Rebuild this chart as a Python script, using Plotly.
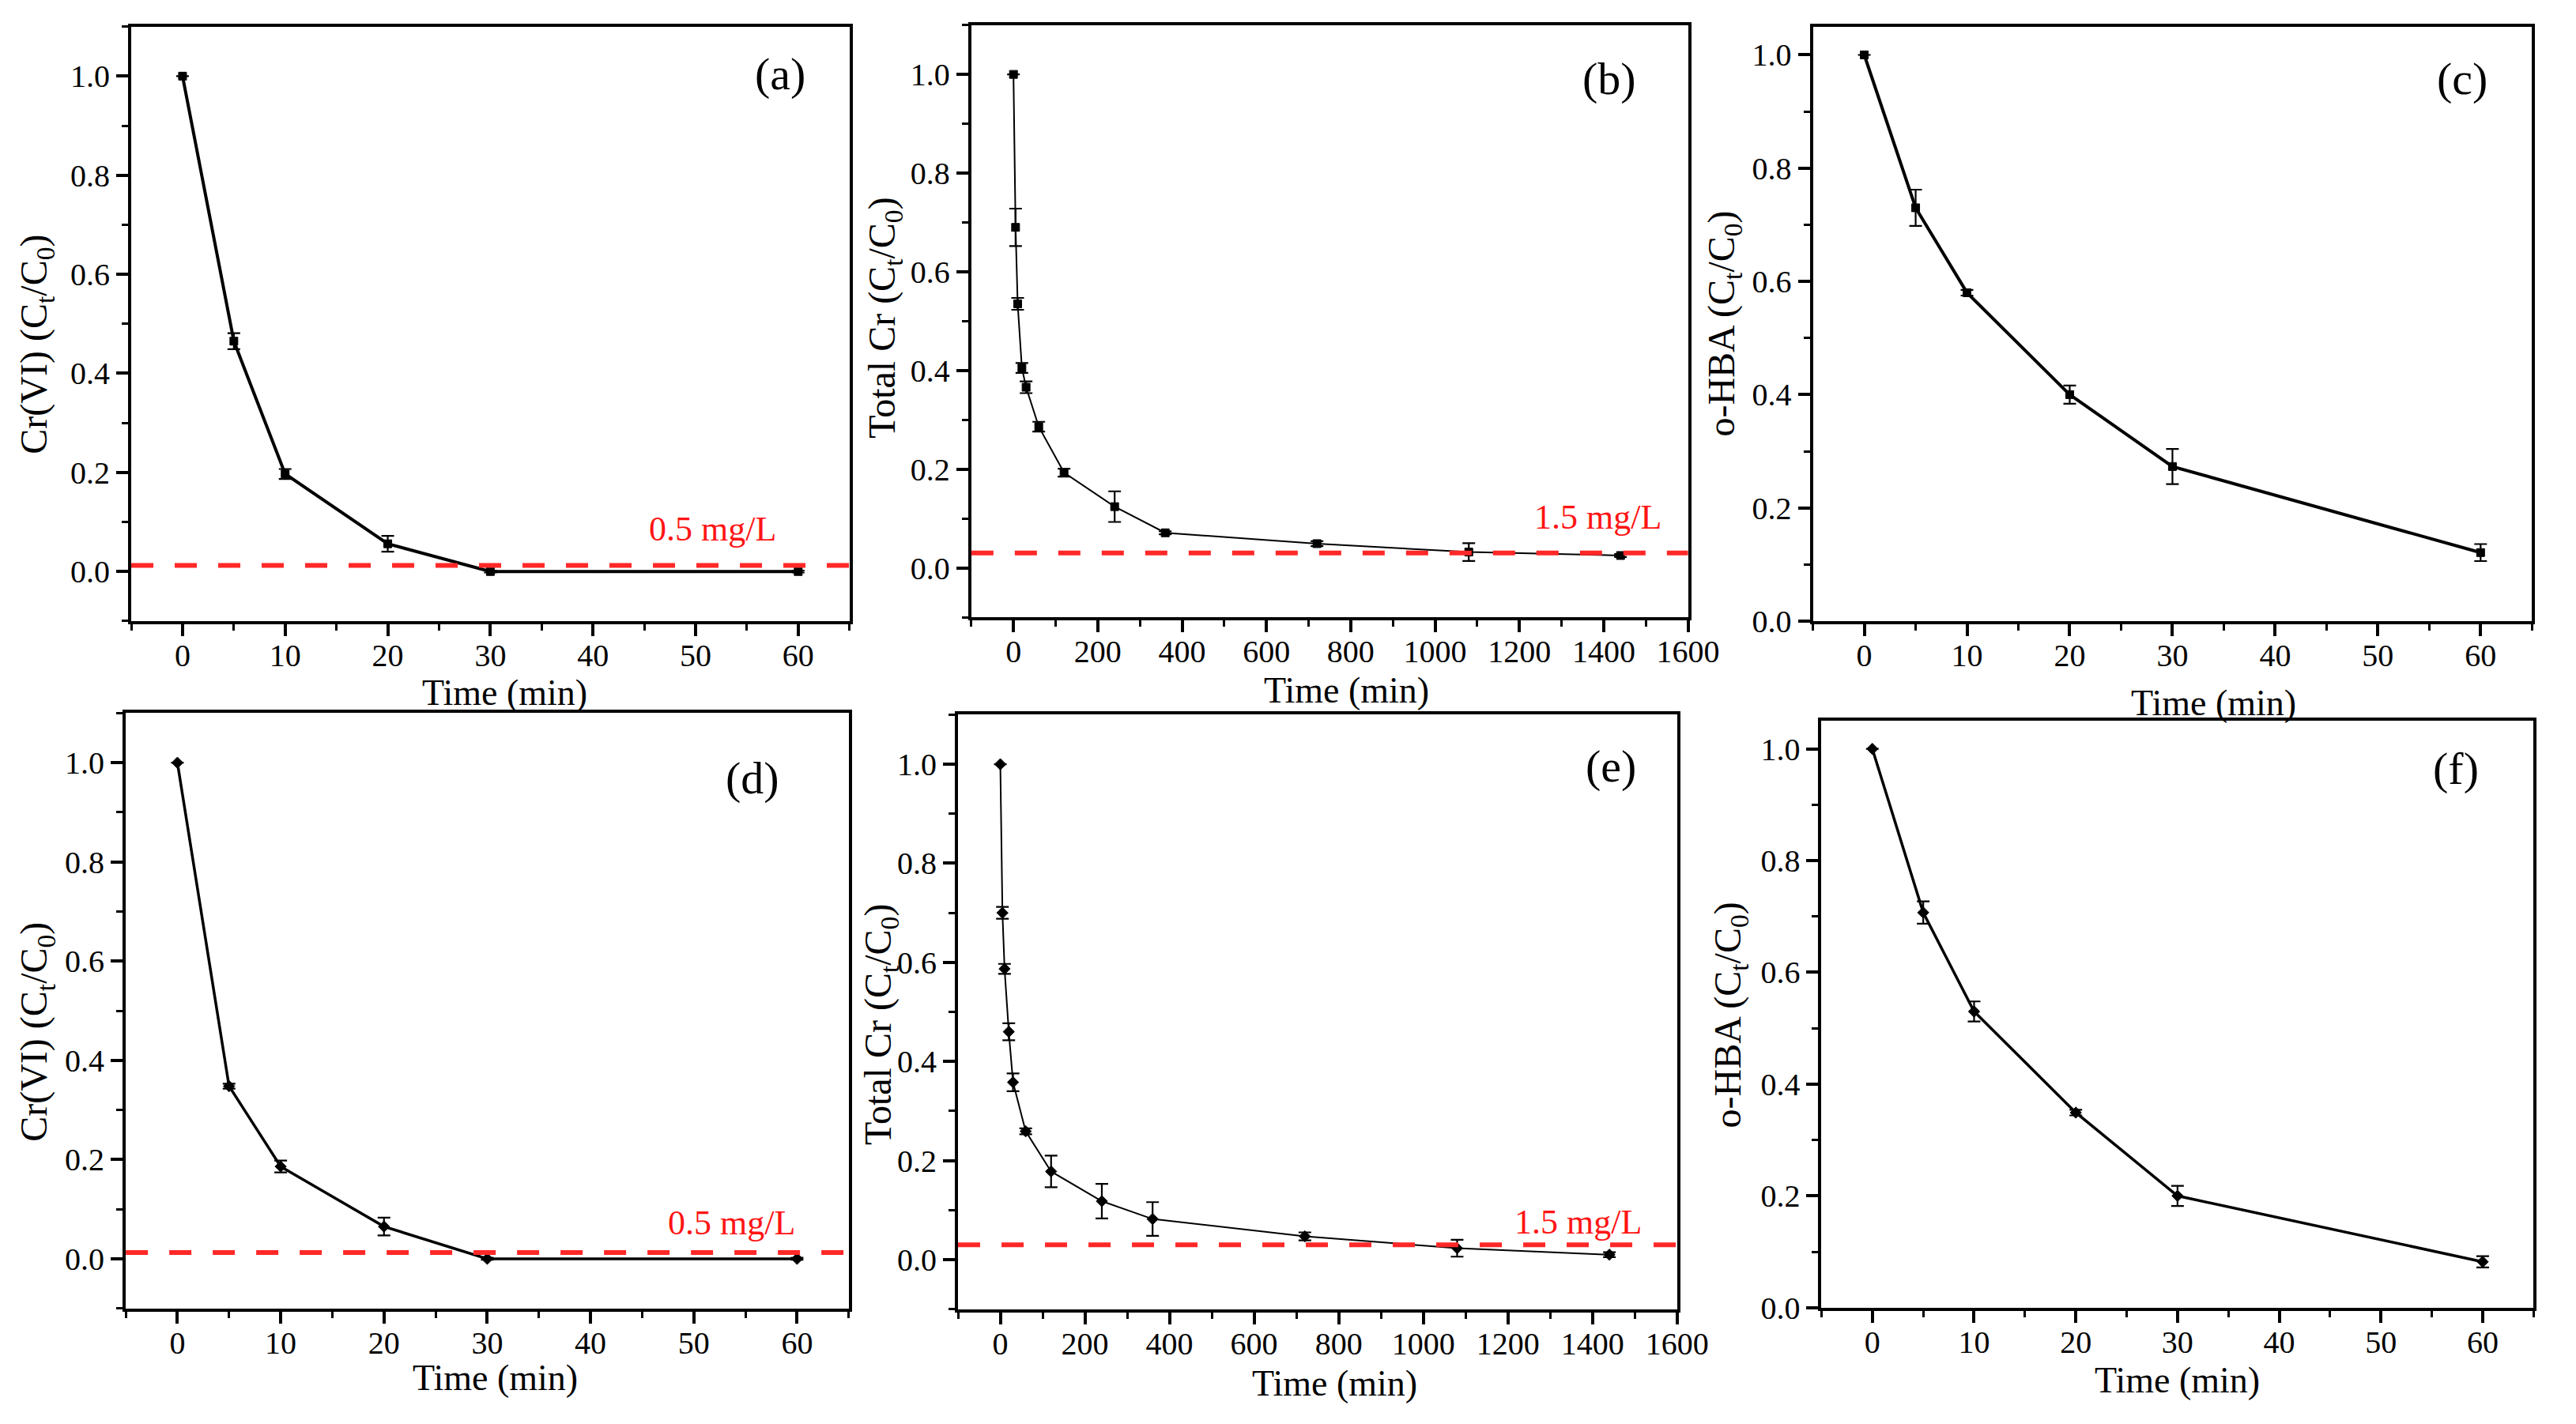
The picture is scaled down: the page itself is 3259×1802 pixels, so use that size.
import plotly.graph_objects as go
from plotly.subplots import make_subplots

# sampling times (min)
T_SHORT = [0, 5, 10, 20, 30, 60]
T_LONG = [0, 5, 10, 20, 30, 60, 120, 240, 360, 720, 1080, 1440]

# (a) Cr(VI)
CR6_A = [1.0, 0.465, 0.197, 0.056, 0.0, 0.0]
CR6_A_ERR = [0, 0.016, 0.010, 0.016, 0.002, 0.002]
# (b) total Cr
TOTCR_B = [1.0, 0.69, 0.535, 0.405, 0.366, 0.286, 0.193, 0.124, 0.071, 0.049, 0.032, 0.025]
TOTCR_B_ERR = [0, 0.038, 0.012, 0.010, 0.012, 0.010, 0.008, 0.031, 0.003, 0.005, 0.018, 0.003]
# (c) o-HBA
HBA_C = [1.0, 0.73, 0.58, 0.40, 0.273, 0.121]
HBA_C_ERR = [0, 0.032, 0.005, 0.016, 0.031, 0.015]
# (d) Cr(VI)
CR6_D = [1.0, 0.348, 0.186, 0.065, 0.0, 0.0]
CR6_D_ERR = [0, 0.005, 0.012, 0.018, 0.002, 0.002]
# (e) total Cr
TOTCR_E = [1.0, 0.70, 0.587, 0.46, 0.358, 0.259, 0.178, 0.118, 0.082, 0.047, 0.023, 0.010]
TOTCR_E_ERR = [0, 0.012, 0.010, 0.017, 0.018, 0.006, 0.032, 0.035, 0.034, 0.008, 0.017, 0.005]
# (f) o-HBA
HBA_F = [1.0, 0.707, 0.53, 0.349, 0.20, 0.082]
HBA_F_ERR = [0, 0.020, 0.018, 0.005, 0.018, 0.010]

# discharge limits as C/C0
LIMIT_CR6 = 0.0125
LIMIT_TOTCR = 0.03
LIMIT_LABELS = ["0.5 mg/L", "1.5 mg/L"]
PANEL_LABELS = ["(a)", "(b)", "(c)", "(d)", "(e)", "(f)"]
Y_TITLES = ["Cr(VI) (C<sub>t</sub>/C<sub>0</sub>)",
            "Total Cr (C<sub>t</sub>/C<sub>0</sub>)",
            "o-HBA (C<sub>t</sub>/C<sub>0</sub>)"]
X_TITLE = "Time (min)"

W, H = 3259, 1802
FONT = "Liberation Serif"

def px_dom(a, b, total, flip=False):
    '''pixel span -> paper domain'''
    if flip:
        return [1 - b / total, 1 - a / total]
    return [a / total, b / total]

# plot-area boxes in pixels (left, right, top, bottom)
BOXES = [
    (160, 1080, 26, 788), (1236, 2154, 24, 783), (2314, 3235, 26, 788),
    (153, 1079, 906, 1669), (1219, 2140, 908, 1670), (2325, 3237, 916, 1668),
]

panels = [
    (T_SHORT, CR6_A, CR6_A_ERR, "square", 4),
    (T_LONG, TOTCR_B, TOTCR_B_ERR, "square", 2),
    (T_SHORT, HBA_C, HBA_C_ERR, "square", 4),
    (T_SHORT, CR6_D, CR6_D_ERR, "diamond", 3.5),
    (T_LONG, TOTCR_E, TOTCR_E_ERR, "diamond", 2),
    (T_SHORT, HBA_F, HBA_F_ERR, "diamond", 3.5),
]

fig = make_subplots(rows=2, cols=3)

for i, (x, y, e, sym, lw) in enumerate(panels):
    r, c = i // 3 + 1, i % 3 + 1
    fig.add_trace(
        go.Scatter(
            x=x, y=y, mode="lines+markers",
            line=dict(color="black", width=lw),
            marker=dict(symbol=sym, size=10 if sym == "square" else 11, color="black",
                        line=dict(color="black", width=1)),
            error_y=dict(type="data", array=e, color="black", thickness=2.2, width=8),
            showlegend=False,
        ),
        row=r, col=c,
    )

# limit lines and their labels
limits = {0: (LIMIT_CR6, LIMIT_LABELS[0], 0.90, 0.155),
          1: (LIMIT_TOTCR, LIMIT_LABELS[1], 0.965, 0.169),
          3: (LIMIT_CR6, LIMIT_LABELS[0], 0.928, 0.144),
          4: (LIMIT_TOTCR, LIMIT_LABELS[1], 0.953, 0.146)}
for i, (lim, txt, ax, ay) in limits.items():
    r, c = i // 3 + 1, i % 3 + 1
    fig.add_hline(y=lim, line=dict(color="rgb(255,40,40)", width=6, dash="28px,27px"),
                  row=r, col=c)
    n = "" if i == 0 else str(i + 1)
    fig.add_annotation(text=txt, xref=f"x{n} domain", yref=f"y{n} domain",
                       x=ax, y=ay, xanchor="right", yanchor="middle", showarrow=False,
                       font=dict(family=FONT, size=44, color="rgb(255,20,20)"))

label_pos = [(0.903, 0.921), (0.89, 0.91), (0.903, 0.913),
             (0.867, 0.891), (0.908, 0.913), (0.891, 0.919)]
# axis titles drawn as annotations (domain coords)
xtitle_pos = [(0.52, -0.121), (0.523, -0.124), (0.557, -0.138),
              (0.511, -0.116), (0.524, -0.125), (0.50, -0.123)]
ytitle_pos = [(-0.1315, 0.465), (-0.122, 0.505), (-0.124, 0.50),
              (-0.123, 0.464), (-0.107, 0.479), (-0.128, 0.499)]

for i, lab in enumerate(PANEL_LABELS):
    n = "" if i == 0 else str(i + 1)
    fig.add_annotation(text=lab, xref=f"x{n} domain", yref=f"y{n} domain",
                       x=label_pos[i][0], y=label_pos[i][1], xanchor="center",
                       yanchor="middle", showarrow=False,
                       font=dict(family=FONT, size=58, color="black"))
    fig.add_annotation(text=X_TITLE, xref=f"x{n} domain", yref=f"y{n} domain",
                       x=xtitle_pos[i][0], y=xtitle_pos[i][1], xanchor="center",
                       yanchor="middle", showarrow=False,
                       font=dict(family=FONT, size=46, color="black"))
    fig.add_annotation(text=Y_TITLES[i % 3], xref=f"x{n} domain", yref=f"y{n} domain",
                       x=ytitle_pos[i][0], y=ytitle_pos[i][1], xanchor="center",
                       yanchor="middle", textangle=-90, showarrow=False,
                       font=dict(family=FONT, size=48, color="black"))

axis_common = dict(
    showline=True, linecolor="black", linewidth=4, mirror=True,
    ticks="outside", ticklen=15, tickwidth=4, tickcolor="black",
    showgrid=False, zeroline=False,
    tickfont=dict(family=FONT, size=40, color="black"),
)

for i in range(6):
    l, rt, t, b = BOXES[i]
    n = "" if i == 0 else str(i + 1)
    long_t = i in (1, 4)
    ohba = i in (2, 5)
    fig.layout[f"xaxis{n}"].update(
        domain=px_dom(l, rt, W), anchor=f"y{n}",
        range=[-100, 1600] if long_t else [-5, 65],
        tickmode="linear", tick0=0, dtick=200 if long_t else 10,
        minor=dict(ticks="outside", ticklen=8, tickwidth=3, tickcolor="black",
                   dtick=100 if long_t else 5, tick0=0),
        ticklabelstandoff=-10,
        **axis_common,
    )
    fig.layout[f"yaxis{n}"].update(
        domain=px_dom(t, b, H, flip=True), anchor=f"x{n}",
        range=[0, 1.05] if ohba else [-0.1, 1.1],
        tickmode="linear", tick0=0, dtick=0.2, tickformat=".1f",
        minor=dict(ticks="outside", ticklen=8, tickwidth=3, tickcolor="black",
                   dtick=0.1, tick0=0),
        **axis_common,
    )

fig.update_layout(
    width=W, height=H,
    margin=dict(l=0, r=0, t=0, b=0),
    plot_bgcolor="white", paper_bgcolor="white",
)

fig.write_html("out.html")
